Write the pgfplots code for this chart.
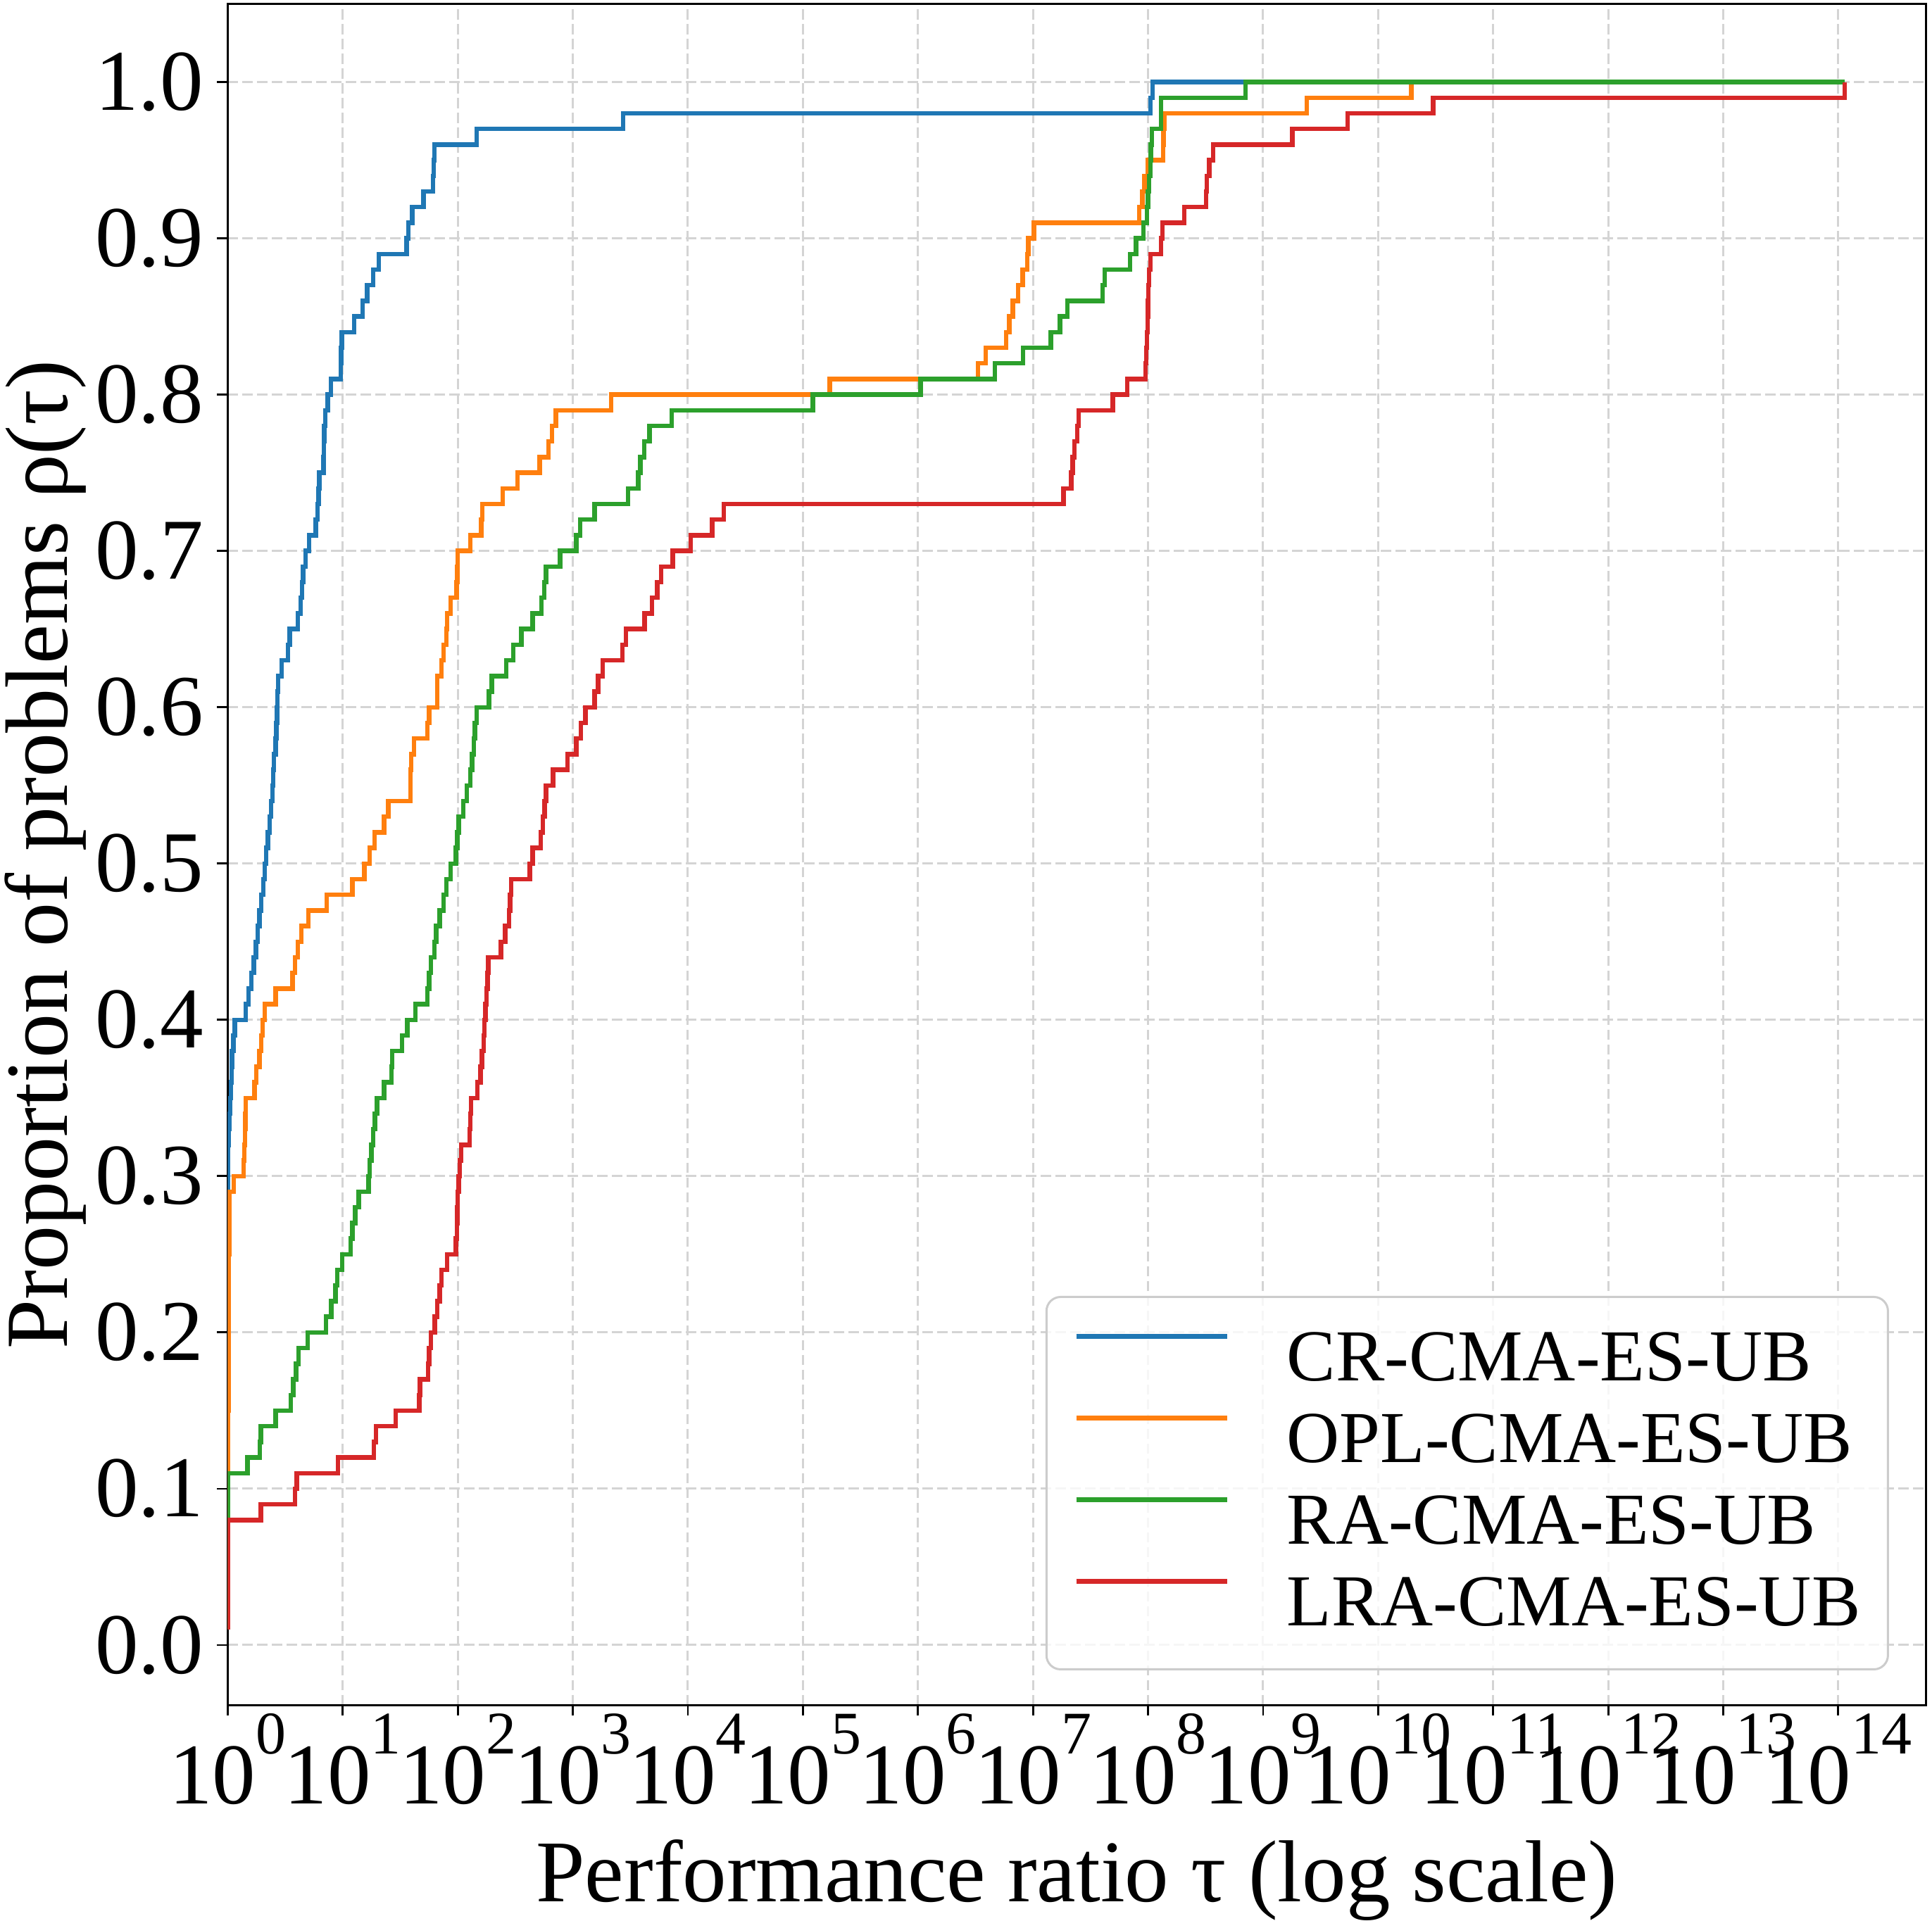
\documentclass[border=0pt]{standalone}
\usepackage{fontspec}
\setmainfont{Liberation Serif}
\usepackage{pgfplots}
\pgfplotsset{compat=1.18}
\usepackage{pgfplotstable}

\definecolor{cCR}{HTML}{1F77B4}
\definecolor{cOPL}{HTML}{FF7F0E}
\definecolor{cRA}{HTML}{2CA02C}
\definecolor{cLRA}{HTML}{D62728}

% power-of-ten tick label with a raised exponent
\newcommand{\pw}[1]{10\raisebox{0.57em}{\fontsize{8.6pt}{8.6pt}\selectfont #1}}

% performance profiles: lt = log10(tau), r = fraction of problems solved
\pgfplotstableread{
lt r
0 0.01
0 0.32
0.010 0.33
0.015 0.34
0.022 0.35
0.028 0.36
0.033 0.37
0.038 0.38
0.050 0.39
0.0625 0.40
0.156 0.41
0.181 0.42
0.205 0.43
0.228 0.44
0.245 0.45
0.26 0.46
0.275 0.47
0.29 0.48
0.31 0.49
0.322 0.50
0.335 0.51
0.35 0.52
0.365 0.53
0.378 0.54
0.39 0.55
0.395 0.56
0.40 0.57
0.416 0.58
0.422 0.59
0.428 0.60
0.433 0.61
0.4375 0.62
0.469 0.63
0.525 0.64
0.54 0.65
0.609 0.66
0.634 0.67
0.645 0.68
0.656 0.69
0.678 0.70
0.709 0.71
0.766 0.72
0.781 0.73
0.79 0.74
0.797 0.75
0.834 0.76
0.836 0.77
0.838 0.78
0.847 0.79
0.869 0.80
0.897 0.81
0.984 0.82
0.987 0.83
0.991 0.84
1.1 0.85
1.172 0.86
1.2125 0.87
1.266 0.88
1.3125 0.89
1.556 0.90
1.572 0.91
1.603 0.92
1.703 0.93
1.784 0.94
1.79 0.95
1.797 0.96
2.1625 0.97
3.4375 0.98
8.02 0.99
8.04 1.00
14.054 1.00
}\tCR

\pgfplotstableread{
lt r
0 0.01
0 0.15
0.009 0.25
0.016 0.29
0.053 0.30
0.14 0.31
0.145 0.32
0.150 0.33
0.153 0.34
0.156 0.35
0.234 0.36
0.25 0.37
0.275 0.38
0.29 0.39
0.305 0.40
0.322 0.41
0.416 0.42
0.5625 0.43
0.584 0.44
0.609 0.45
0.641 0.46
0.703 0.47
0.859 0.48
1.084 0.49
1.1875 0.50
1.234 0.51
1.275 0.52
1.359 0.53
1.397 0.54
1.5875 0.55
1.59 0.56
1.594 0.57
1.619 0.58
1.734 0.59
1.75 0.60
1.82 0.61
1.822 0.62
1.859 0.63
1.875 0.64
1.90 0.65
1.906 0.66
1.9375 0.67
1.99 0.68
1.995 0.69
2.0 0.70
2.109 0.71
2.203 0.72
2.2125 0.73
2.39 0.74
2.52 0.75
2.7125 0.76
2.7875 0.77
2.82 0.78
2.853 0.79
3.334 0.80
5.234 0.81
6.523 0.82
6.59 0.83
6.766 0.84
6.793 0.85
6.824 0.86
6.871 0.87
6.91 0.88
6.949 0.89
6.96 0.90
7.008 0.91
7.924 0.92
7.951 0.93
7.97 0.94
7.995 0.95
8.13 0.96
8.135 0.97
8.141 0.98
9.38 0.99
10.29 1.00
14.054 1.00
}\tOPL

\pgfplotstableread{
lt r
0 0.01
0 0.11
0.172 0.12
0.28 0.13
0.2875 0.14
0.416 0.15
0.547 0.16
0.57 0.17
0.594 0.18
0.616 0.19
0.694 0.20
0.853 0.21
0.9 0.22
0.9375 0.23
0.953 0.24
0.994 0.25
1.069 0.26
1.084 0.27
1.109 0.28
1.14 0.29
1.225 0.30
1.234 0.31
1.25 0.32
1.266 0.33
1.28 0.34
1.297 0.35
1.359 0.36
1.422 0.37
1.43 0.38
1.516 0.39
1.5625 0.40
1.631 0.41
1.734 0.42
1.75 0.43
1.766 0.44
1.797 0.45
1.8125 0.46
1.844 0.47
1.875 0.48
1.9 0.49
1.9375 0.50
1.984 0.51
1.995 0.52
2.009 0.53
2.047 0.54
2.078 0.55
2.109 0.56
2.125 0.57
2.14 0.58
2.15 0.59
2.1625 0.60
2.272 0.61
2.297 0.62
2.42 0.63
2.484 0.64
2.553 0.65
2.65 0.66
2.728 0.67
2.75 0.68
2.766 0.69
2.89 0.70
3.03 0.71
3.0625 0.72
3.19 0.73
3.48 0.74
3.57 0.75
3.5875 0.76
3.62 0.77
3.666 0.78
3.86 0.79
5.086 0.80
6.023 0.81
6.668 0.82
6.914 0.83
7.156 0.84
7.234 0.85
7.30 0.86
7.605 0.87
7.625 0.88
7.842 0.89
7.897 0.90
7.96 0.91
7.989 0.92
8.0 0.93
8.01 0.94
8.02 0.95
8.025 0.96
8.033 0.97
8.114 0.99
8.848 1.00
14.054 1.00
}\tRA

\pgfplotstableread{
lt r
0 0.01
0 0.08
0.2875 0.09
0.584 0.10
0.6 0.11
0.959 0.12
1.272 0.13
1.2875 0.14
1.459 0.15
1.666 0.16
1.672 0.17
1.74 0.18
1.75 0.19
1.766 0.20
1.80 0.21
1.822 0.22
1.844 0.23
1.859 0.24
1.906 0.25
1.984 0.26
1.994 0.27
1.997 0.28
2.0 0.29
2.008 0.30
2.016 0.31
2.031 0.32
2.103 0.33
2.11 0.34
2.116 0.35
2.172 0.36
2.197 0.37
2.21 0.38
2.225 0.39
2.23 0.40
2.24 0.41
2.25 0.42
2.26 0.43
2.266 0.44
2.375 0.45
2.4125 0.46
2.447 0.47
2.455 0.48
2.4625 0.49
2.625 0.50
2.65 0.51
2.72 0.52
2.74 0.53
2.755 0.54
2.766 0.55
2.828 0.56
2.953 0.57
3.03 0.58
3.07 0.59
3.11 0.60
3.19 0.61
3.22 0.62
3.26 0.63
3.43 0.64
3.4625 0.65
3.625 0.66
3.6875 0.67
3.734 0.68
3.766 0.69
3.869 0.70
4.025 0.71
4.2125 0.72
4.3125 0.73
7.266 0.74
7.332 0.75
7.344 0.76
7.359 0.77
7.383 0.78
7.398 0.79
7.695 0.80
7.82 0.81
7.977 0.82
7.985 0.83
7.99 0.84
7.995 0.85
8.0 0.86
8.004 0.87
8.008 0.88
8.023 0.89
8.113 0.90
8.125 0.91
8.315 0.92
8.505 0.93
8.51 0.94
8.533 0.95
8.565 0.96
9.255 0.97
9.734 0.98
10.478 0.99
14.054 1.00
}\tLRA

\begin{document}
\begin{tikzpicture}
\begin{axis}[
  scale only axis,
  width=241.16pt, height=241.6pt,
  xmode=log,
  xmin=1, xmax=5.754e14,
  ymin=-0.0383, ymax=1.0498,
  xtick={1,1e1,1e2,1e3,1e4,1e5,1e6,1e7,1e8,1e9,1e10,1e11,1e12,1e13,1e14},
  xticklabels={\pw{0},\pw{1},\pw{2},\pw{3},\pw{4},\pw{5},\pw{6},\pw{7},\pw{8},\pw{9},\pw{10},\pw{11},\pw{12},\pw{13},\pw{14}},
  xminorticks=false,
  ytick={0,0.1,0.2,0.3,0.4,0.5,0.6,0.7,0.8,0.9,1.0},
  yticklabels={0.0,0.1,0.2,0.3,0.4,0.5,0.6,0.7,0.8,0.9,1.0},
  tick align=outside,
  major tick length=1.5pt,
  tick pos=left,
  tick style={black, line width=0.28pt},
  axis line style={line width=0.3pt},
  grid=major,
  major grid style={line width=0.3pt, color=black!17, dash pattern=on 1.45pt off 0.65pt},
  ticklabel style={font=\fontsize{12.3pt}{12.3pt}\selectfont},
  xticklabel style={anchor=base, yshift=-12.5pt},
  yticklabel style={anchor=east, inner sep=0pt, xshift=-1.75pt},
  xlabel={Performance ratio τ (log scale)},
  ylabel={Proportion of problems ρ(τ)},
  every axis x label/.style={at={(rel axis cs:0.5,0)}, yshift=-27.9pt, anchor=base,
    font=\fontsize{12.5pt}{12.5pt}\selectfont},
  every axis y label/.style={at={(rel axis cs:0,0.5)}, xshift=-22.8pt, rotate=90, anchor=base,
    font=\fontsize{12.6pt}{12.6pt}\selectfont},
  legend cell align=left,
  legend style={
    at={(axis description cs:0.9784,0.0203)}, anchor=south east,
    draw=black!20, line width=0.3pt, rounded corners=2pt,
    fill=white, fill opacity=0.8, text opacity=1, draw opacity=1,
    font=\fontsize{10.4pt}{10.4pt}\selectfont,
    inner xsep=3.9pt, inner ysep=4.9pt,
    row sep=3.3pt,
    nodes={inner sep=0pt, text height=7pt, text depth=1.3pt},
    /tikz/every odd column/.append style={column sep=8.2pt},
  },
  legend image code/.code={\draw[#1, line width=0.64pt] (0pt,3.45pt) -- (21.4pt,3.45pt);},
]
\addplot[cCR, line width=0.64pt, const plot mark left, no marks] table[x expr={10^\thisrow{lt}}, y=r]{\tCR};
\addlegendentry{CR-CMA-ES-UB}
\addplot[cOPL, line width=0.64pt, const plot mark left, no marks] table[x expr={10^\thisrow{lt}}, y=r]{\tOPL};
\addlegendentry{OPL-CMA-ES-UB}
\addplot[cRA, line width=0.64pt, const plot mark left, no marks] table[x expr={10^\thisrow{lt}}, y=r]{\tRA};
\addlegendentry{RA-CMA-ES-UB}
\addplot[cLRA, line width=0.64pt, const plot mark left, no marks] table[x expr={10^\thisrow{lt}}, y=r]{\tLRA};
\addlegendentry{LRA-CMA-ES-UB}
\coordinate (ll) at (rel axis cs:0,0);
\coordinate (ur) at (rel axis cs:1,1);
\end{axis}
\pgfresetboundingbox
\path ([shift={(-32.34pt,-30.6pt)}]ll) rectangle ([shift={(0.9pt,0.6pt)}]ur);
\end{tikzpicture}
\end{document}
